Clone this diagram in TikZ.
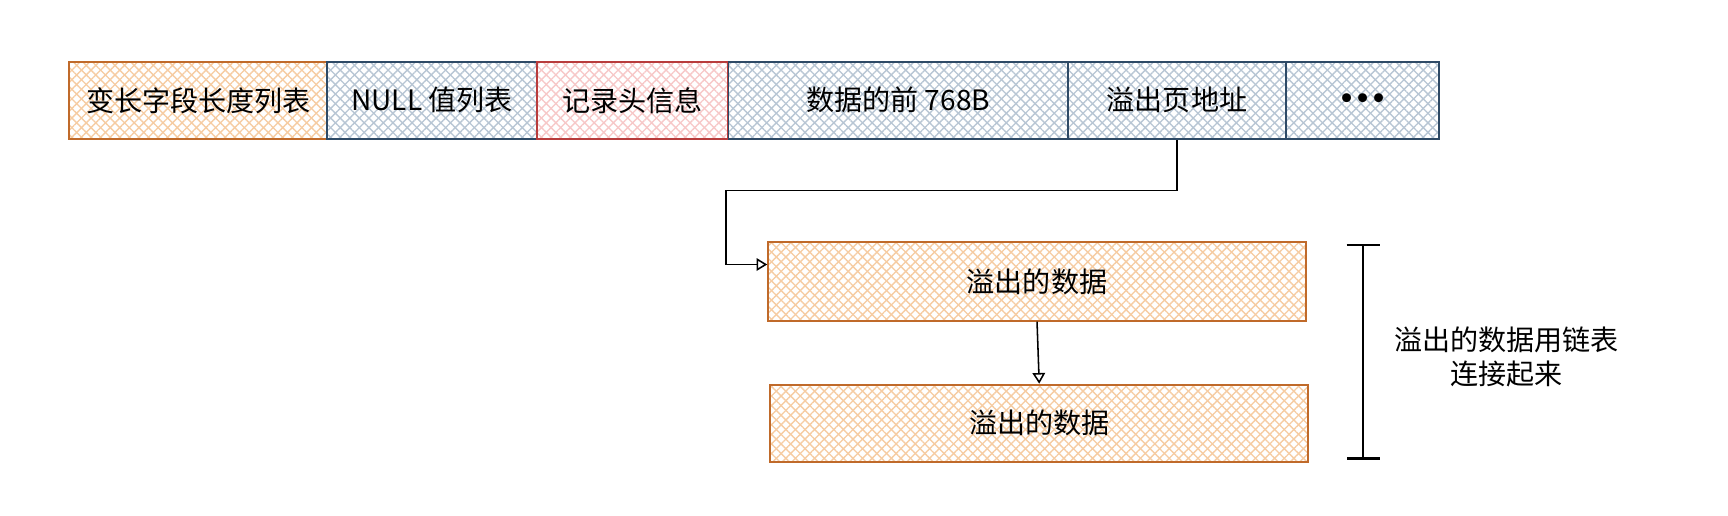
\documentclass[tikz,border=0pt]{standalone}
\usepackage{fontspec}
\newfontfamily\cjk{Noto Sans CJK SC}
\newfontfamily\dotfont{DejaVu Sans}
\usetikzlibrary{arrows.meta,patterns.meta}

\definecolor{orStroke}{HTML}{C06A2A}
\definecolor{orHatch}{HTML}{F6CCA2}
\definecolor{blStroke}{HTML}{2E4A66}
\definecolor{blHatch}{HTML}{B8C6D4}
\definecolor{rdStroke}{HTML}{B83C3C}
\definecolor{rdHatch}{HTML}{F7C8C8}

\begin{document}
\begin{tikzpicture}[x=0.02cm, y=-0.02cm,
    font=\cjk\fontsize{14.5}{17.5}\selectfont,
    hatched/.style={
      preaction={pattern={Lines[angle=45,distance=3.5pt,line width=0.7pt]}, pattern color=#1},
      preaction={pattern={Lines[angle=-45,distance=3.5pt,line width=0.7pt]}, pattern color=#1}},
    field/.style={rectangle, draw, line width=1pt, minimum height=1.4cm, inner sep=0pt},
    orfield/.style={field, draw=orStroke, hatched=orHatch},
    blfield/.style={field, draw=blStroke, hatched=blHatch},
    rdfield/.style={field, draw=rdStroke, hatched=rdHatch},
    link/.style={line width=0.8pt, -{Triangle[open, length=5.5pt, width=6.5pt]}}]

  % Background
  \fill[white] (0,0) rectangle (1568,468);

  % Row format
  \node[orfield, minimum width=4.68cm] (varlen) at (180,91) {变长字段长度列表};
  \node[blfield, minimum width=3.8cm] (nulls) at (392,91) {NULL 值列表};
  \node[rdfield, minimum width=3.48cm] (header) at (574,91) {记录头信息};
  \node[blfield, minimum width=6.16cm] (prefix) at (815,91) {数据的前 768B};
  \node[blfield, minimum width=3.96cm] (addr) at (1068,91) {溢出页地址};
  \node[blfield, minimum width=2.78cm, font=\dotfont\bfseries\fontsize{13}{15}\selectfont] (more) at (1236.5,91) {•••};

  % Overflow pages
  \node[orfield, minimum width=9.76cm, minimum height=1.42cm] (ovA) at (941,255.5) {溢出的数据};
  \node[orfield, minimum width=9.76cm] (ovB) at (943,384) {溢出的数据};

  % Links
  \coordinate (turn) at (659,173);
  \draw[link] (addr.south) |- (turn) |- ([yshift=0.31cm]ovA.west);
  \draw[link] (ovA.south) -- (ovB.north);

  % Bracket and note
  \coordinate (brTop) at (1237,221);
  \coordinate (brBot) at (1237,417);
  \draw[line width=1.2pt, {Bar[width=0.6cm]}-{Bar[width=0.6cm]}] (brTop) -- (brBot);
  \node[align=center] (note) at (1367,324) {溢出的数据用链表\\连接起来};

\end{tikzpicture}
\end{document}
